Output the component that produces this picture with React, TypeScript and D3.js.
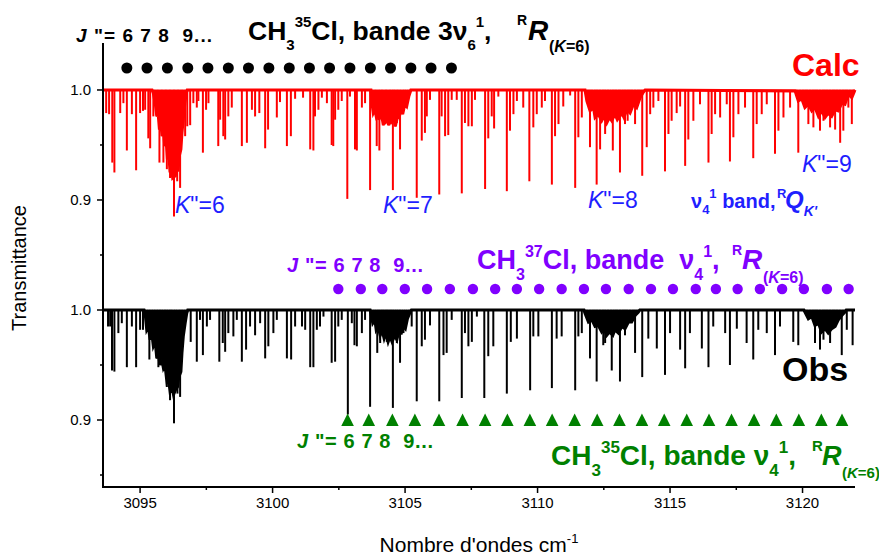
import React from "react";
import * as d3 from "d3";

// ---------------- data ----------------
const xDomain: [number, number] = [3093.6, 3121.98];
const yDomain: [number, number] = [0.8391, 1.2427]; // stacked axis (Calc shifted by +0.2)
const calcOffset = 0.2;

const xTicksMajor = [3095, 3100, 3105, 3110, 3115, 3120];
const xTicksMinor = [3097.5, 3102.5, 3107.5, 3112.5, 3117.5];
const yTicksMajor = [0.9, 1.0, 1.1, 1.2];
const yTickLabels = ["0.9", "1.0", "0.9", "1.0"];
const yTicksMinor = [0.85, 0.95, 1.05, 1.15];

// Calc spectrum: absorption lines [wavenumber, minimum transmittance]
const calcLines: [number, number][] = [
  [3093.72,0.979],[3093.83,0.978],[3093.95,0.934],[3094.03,0.925],[3094.25,0.979],[3094.37,0.988],[3094.50,0.945],[3094.69,0.978],[3094.85,0.927],[3095.00,0.979],[3095.11,0.981],[3095.19,0.982],[3095.31,0.956],[3095.38,0.947],[3095.50,0.976],[3095.73,0.934],[3095.88,0.934],[3096.01,0.928],[3096.13,0.920],[3096.28,0.885],[3096.40,0.917],[3096.51,0.911],[3096.70,0.958],[3096.78,0.967],[3096.89,0.968],[3097.01,0.988],[3097.14,0.984],[3097.20,0.990],[3097.37,0.943],[3097.49,0.982],[3097.58,0.988],[3097.95,0.949],[3098.02,0.973],[3098.14,0.958],[3098.21,0.955],[3098.33,0.976],[3098.46,0.984],[3098.84,0.949],[3099.03,0.952],[3099.22,0.982],[3099.34,0.976],[3099.50,0.979],[3099.72,0.947],[3099.83,0.964],[3100.16,0.975],[3100.28,0.989],[3100.54,0.949],[3100.69,0.958],[3100.85,0.992],[3101.15,0.993],[3101.42,0.946],[3101.54,0.945],[3101.60,0.976],[3101.73,0.982],[3101.86,0.993],[3102.05,0.988],[3102.23,0.950],[3102.29,0.949],[3102.36,0.973],[3102.48,0.982],[3102.61,0.990],[3102.82,0.901],[3102.92,0.994],[3103.11,0.946],[3103.18,0.945],[3103.37,0.984],[3103.49,0.988],[3103.68,0.909],[3103.93,0.949],[3104.03,0.945],[3104.31,0.972],[3104.41,0.968],[3104.54,0.909],[3104.62,0.967],[3104.69,0.970],[3104.81,0.946],[3105.06,0.985],[3105.44,0.902],[3105.63,0.954],[3105.75,0.961],[3105.82,0.976],[3105.94,0.991],[3106.29,0.905],[3106.38,0.976],[3106.51,0.958],[3106.63,0.959],[3106.76,0.991],[3106.95,0.991],[3107.14,0.906],[3107.26,0.970],[3107.39,0.967],[3107.52,0.967],[3107.64,0.991],[3108.02,0.910],[3108.14,0.956],[3108.27,0.976],[3108.36,0.965],[3108.52,0.994],[3108.84,0.908],[3108.96,0.963],[3109.09,0.978],[3109.22,0.990],[3109.46,0.984],[3109.69,0.917],[3109.84,0.966],[3109.97,0.978],[3110.16,0.984],[3110.28,0.990],[3110.54,0.914],[3110.66,0.958],[3110.79,0.969],[3110.97,0.985],[3111.23,0.995],[3111.42,0.911],[3111.54,0.957],[3111.67,0.975],[3111.98,0.948],[3112.23,0.914],[3112.36,0.946],[3112.55,0.960],[3112.84,0.945],[3113.11,0.925],[3113.30,0.969],[3113.40,0.972],[3113.68,0.969],[3113.95,0.922],[3114.12,0.948],[3114.25,0.978],[3114.37,0.984],[3114.56,0.990],[3114.81,0.926],[3114.94,0.960],[3115.06,0.972],[3115.25,0.979],[3115.38,0.985],[3115.57,0.931],[3115.69,0.955],[3115.88,0.972],[3116.13,0.987],[3116.45,0.934],[3116.57,0.960],[3116.70,0.978],[3116.89,0.975],[3117.14,0.987],[3117.26,0.935],[3117.39,0.957],[3117.58,0.978],[3117.83,0.984],[3118.14,0.938],[3118.27,0.969],[3118.46,0.978],[3118.65,0.987],[3118.96,0.942],[3119.09,0.963],[3119.28,0.975],[3119.53,0.984],[3119.84,0.943],[3120.22,0.969],[3120.41,0.966],[3120.66,0.963],[3120.79,0.972],[3121.04,0.966],[3121.23,0.964],[3121.42,0.952],[3121.54,0.963],[3121.73,0.984],[3121.86,0.969]
];

// Calc spectrum: unresolved band outlines [wavenumber, transmittance]
const calcEnvelope: [number, number][] = [
  [3093.6,1.0],
  [3095.45,1.0],[3095.50,0.997],[3095.57,0.988],[3095.63,0.976],[3095.68,0.979],[3095.73,0.964],[3095.78,0.970],[3095.83,0.958],[3095.88,0.964],[3095.93,0.949],[3095.98,0.955],[3096.03,0.937],[3096.08,0.943],[3096.13,0.925],[3096.18,0.931],[3096.23,0.920],[3096.33,0.922],[3096.38,0.931],[3096.43,0.926],[3096.48,0.940],[3096.54,0.946],[3096.58,0.961],[3096.63,0.973],[3096.69,0.988],[3096.74,0.997],[3096.78,1.0],
  [3103.68,1.0],[3103.71,1.0],[3103.75,0.988],[3103.80,0.979],[3103.86,0.982],[3103.91,0.976],[3103.97,0.979],[3104.01,0.973],[3104.08,0.978],[3104.13,0.975],[3104.18,0.968],[3104.23,0.976],[3104.28,0.972],[3104.33,0.975],[3104.38,0.968],[3104.43,0.973],[3104.48,0.971],[3104.58,0.975],[3104.63,0.967],[3104.69,0.973],[3104.74,0.978],[3104.78,0.976],[3104.86,0.982],[3104.91,0.978],[3104.99,0.987],[3105.06,0.985],[3105.14,0.994],[3105.22,1.0],
  [3111.79,1.0],[3111.86,0.990],[3111.98,0.981],[3112.11,0.984],[3112.17,0.975],[3112.29,0.978],[3112.42,0.972],[3112.51,0.976],[3112.61,0.970],[3112.71,0.975],[3112.80,0.972],[3112.92,0.978],[3113.01,0.973],[3113.18,0.979],[3113.26,0.975],[3113.37,0.982],[3113.49,0.979],[3113.62,0.987],[3113.74,0.984],[3113.87,0.993],[3113.99,0.998],[3114.06,1.0],
  [3119.72,0.999],[3119.84,0.990],[3119.97,0.992],[3120.09,0.984],[3120.22,0.987],[3120.35,0.981],[3120.47,0.984],[3120.60,0.976],[3120.72,0.981],[3120.85,0.975],[3120.97,0.979],[3121.10,0.976],[3121.23,0.982],[3121.35,0.981],[3121.48,0.988],[3121.60,0.987],[3121.73,0.996],[3121.86,0.993],[3121.98,1.0]
];

// Obs spectrum
const obsLines: [number, number][] = [
  [3093.79,0.985],[3093.87,0.985],[3093.94,0.945],[3094.03,0.944],[3094.18,0.979],[3094.31,0.988],[3094.50,0.948],[3094.69,0.985],[3094.85,0.948],[3095.00,0.982],[3095.11,0.982],[3095.35,0.955],[3095.69,0.948],[3096.01,0.930],[3096.13,0.918],[3096.28,0.897],[3096.41,0.924],[3096.51,0.921],[3096.91,0.971],[3097.14,0.953],[3097.26,0.991],[3097.37,0.959],[3097.52,0.985],[3097.64,0.991],[3097.99,0.953],[3098.12,0.970],[3098.21,0.962],[3098.33,0.979],[3098.52,0.976],[3098.65,0.991],[3098.84,0.953],[3099.00,0.964],[3099.15,0.985],[3099.34,0.977],[3099.53,0.988],[3099.72,0.956],[3099.84,0.967],[3100.03,0.979],[3100.16,0.991],[3100.54,0.956],[3100.70,0.955],[3100.85,0.985],[3101.11,0.985],[3101.23,0.982],[3101.42,0.948],[3101.54,0.948],[3101.67,0.982],[3101.79,0.985],[3101.92,0.994],[3102.23,0.952],[3102.36,0.953],[3102.48,0.985],[3102.61,0.991],[3102.84,0.905],[3102.99,0.988],[3103.09,0.968],[3103.18,0.967],[3103.37,0.979],[3103.49,0.991],[3103.68,0.912],[3103.95,0.961],[3104.06,0.970],[3104.31,0.971],[3104.54,0.911],[3104.69,0.970],[3104.81,0.952],[3104.94,0.979],[3105.25,0.985],[3105.44,0.917],[3105.63,0.967],[3105.75,0.973],[3105.94,0.986],[3106.29,0.917],[3106.45,0.959],[3106.57,0.961],[3106.76,0.991],[3107.14,0.920],[3107.26,0.979],[3107.39,0.967],[3107.52,0.971],[3107.71,0.994],[3107.99,0.920],[3108.14,0.958],[3108.33,0.967],[3108.84,0.924],[3108.99,0.971],[3109.22,0.974],[3109.72,0.927],[3109.84,0.976],[3110.03,0.976],[3110.54,0.929],[3110.72,0.974],[3110.91,0.976],[3111.42,0.927],[3111.54,0.976],[3111.67,0.979],[3111.98,0.956],[3112.23,0.935],[3112.48,0.968],[3112.55,0.970],[3112.80,0.945],[3113.11,0.935],[3113.30,0.977],[3113.68,0.961],[3113.95,0.939],[3114.18,0.974],[3114.50,0.965],[3114.81,0.941],[3115.00,0.979],[3115.38,0.964],[3115.57,0.947],[3115.75,0.979],[3116.20,0.965],[3116.45,0.948],[3116.63,0.985],[3117.08,0.979],[3117.26,0.950],[3117.52,0.983],[3117.89,0.970],[3118.14,0.955],[3118.33,0.982],[3118.65,0.979],[3118.96,0.959],[3119.15,0.985],[3119.65,0.971],[3119.84,0.968],[3120.47,0.970],[3120.66,0.964],[3120.79,0.973],[3121.04,0.970],[3121.48,0.959],[3121.67,0.982],[3121.89,0.968]
];

const obsEnvelope: [number, number][] = [
  [3093.6,1.0],
  [3095.15,1.0],[3095.19,0.997],[3095.25,0.982],[3095.31,0.985],[3095.38,0.973],[3095.44,0.979],[3095.50,0.967],[3095.57,0.971],[3095.63,0.956],[3095.69,0.961],[3095.75,0.950],[3095.82,0.955],[3095.88,0.947],[3095.94,0.950],[3096.01,0.935],[3096.07,0.938],[3096.13,0.926],[3096.21,0.929],[3096.26,0.923],[3096.33,0.927],[3096.41,0.930],[3096.46,0.939],[3096.54,0.944],[3096.58,0.961],[3096.63,0.976],[3096.70,0.988],[3096.76,0.997],[3096.80,1.0],
  [3103.68,1.0],[3103.71,0.997],[3103.78,0.988],[3103.86,0.991],[3103.91,0.982],[3103.98,0.985],[3104.06,0.977],[3104.13,0.982],[3104.21,0.974],[3104.28,0.979],[3104.36,0.971],[3104.43,0.976],[3104.51,0.971],[3104.61,0.977],[3104.69,0.973],[3104.76,0.980],[3104.86,0.979],[3104.94,0.985],[3105.01,0.983],[3105.09,0.992],[3105.19,0.998],[3105.24,1.0],
  [3111.75,1.0],[3111.79,0.997],[3111.92,0.989],[3112.05,0.991],[3112.17,0.985],[3112.29,0.986],[3112.42,0.980],[3112.51,0.983],[3112.61,0.977],[3112.71,0.980],[3112.84,0.977],[3112.92,0.982],[3113.05,0.979],[3113.18,0.985],[3113.30,0.983],[3113.43,0.989],[3113.55,0.989],[3113.68,0.995],[3113.80,0.998],[3113.86,1.0],
  [3120.05,1.0],[3120.09,0.998],[3120.22,0.992],[3120.35,0.994],[3120.47,0.986],[3120.60,0.988],[3120.72,0.980],[3120.85,0.983],[3120.97,0.979],[3121.10,0.983],[3121.23,0.985],[3121.35,0.991],[3121.48,0.995],[3121.60,0.998],[3121.65,1.0],
  [3121.98,1.0]
];

// J" assignment markers (wavenumbers)
const jMarks3v6 = [3094.50,3095.26,3096.03,3096.80,3097.56,3098.33,3099.09,3099.86,3100.63,3101.39,3102.15,3102.92,3103.69,3104.45,3105.22,3105.98,3106.75];
const jMarks37v4 = [3102.48,3103.33,3104.14,3104.99,3105.83,3106.69,3107.56,3108.40,3109.22,3110.06,3110.91,3111.75,3112.58,3113.44,3114.28,3115.11,3115.97,3116.73,3117.55,3118.39,3119.23,3120.05,3120.92,3121.74];
const jMarks35v4 = [3102.83,3103.63,3104.52,3105.37,3106.28,3107.17,3108.02,3108.86,3109.71,3110.55,3111.40,3112.25,3113.09,3113.94,3114.78,3115.63,3116.47,3117.32,3118.17,3119.01,3119.86,3120.71,3121.49];

// ---------------- styles ----------------
const FONT = "'Liberation Sans', Arial, Helvetica, sans-serif";
const RED = "#ff0000";
const BLUE = "#1f1fff";
const PURPLE = "#8000ff";
const GREEN = "#008000";

type Seg = { t: string; size?: number; shift?: number; italic?: boolean; x?: number; weight?: string };

function Rich(props: { x: number; y: number; segs: Seg[]; fill: string; size: number; weight?: string; textLength?: number }) {
  let prev = 0;
  return (
    <text
      x={props.x}
      y={props.y}
      fill={props.fill}
      fontFamily={FONT}
      fontSize={props.size}
      fontWeight={props.weight || "bold"}
      style={{ whiteSpace: "pre" }}
      textLength={props.textLength}
      lengthAdjust={props.textLength ? "spacing" : undefined}
    >
      {props.segs.map((s, i) => {
        const sh = s.shift || 0;
        const dy = sh - prev;
        prev = sh;
        return (
          <tspan
            key={i}
            x={s.x}
            dy={dy}
            fontSize={s.size || props.size}
            fontStyle={s.italic ? "italic" : "normal"}
            fontWeight={s.weight}
          >
            {s.t}
          </tspan>
        );
      })}
    </text>
  );
}

export default function App() {
  const x = d3.scaleLinear().domain(xDomain).range([103, 855]);
  const y = d3.scaleLinear().domain(yDomain).range([487, 43]);

  const spectrum = (lines: [number, number][], env: [number, number][], off: number, color: string, base: number) => {
    const area = d3
      .area<[number, number]>()
      .x((d) => x(d[0]))
      .y0(() => y(1 + off))
      .y1((d) => y(d[1] + off));
    const line = d3
      .line<[number, number]>()
      .x((d) => x(d[0]))
      .y((d) => y(d[1] + off));
    return (
      <g>
        <path d={area(env) || ""} fill={color} stroke={color} strokeWidth={1} />
        <path d={line(env) || ""} fill="none" stroke={color} strokeWidth={base} />
        {lines.map((l, i) => (
          <line key={i} x1={x(l[0])} x2={x(l[0])} y1={y(1 + off)} y2={y(l[1] + off)} stroke={color} strokeWidth={2} />
        ))}
      </g>
    );
  };

  const tri = (cx: number) => `M${cx},413.5 L${cx + 6.3},426 L${cx - 6.3},426 Z`;

  return (
    <svg width={879} height={557} style={{ position: "absolute", left: 0, top: 0, background: "#fff" }}>
      <rect x={0} y={0} width={879} height={557} fill="#fff" />

      {/* spectra */}
      {spectrum(calcLines, calcEnvelope, calcOffset, RED, 3)}
      {spectrum(obsLines, obsEnvelope, 0, "#000", 3)}

      {/* axes */}
      <line x1={103} x2={103} y1={43} y2={488} stroke="#000" strokeWidth={2} />
      <line x1={102} x2={855} y1={487} y2={487} stroke="#000" strokeWidth={2} />
      {yTicksMajor.map((v, i) => (
        <g key={"ym" + i}>
          <line x1={97} x2={103} y1={y(v)} y2={y(v)} stroke="#000" strokeWidth={1.5} />
          <text x={91} y={y(v) + 5} textAnchor="end" fontFamily={FONT} fontSize={15}>
            {yTickLabels[i]}
          </text>
        </g>
      ))}
      {yTicksMinor.map((v, i) => (
        <line key={"yn" + i} x1={100} x2={103} y1={y(v)} y2={y(v)} stroke="#000" strokeWidth={1.5} />
      ))}
      {xTicksMajor.map((v, i) => (
        <g key={"xm" + i}>
          <line x1={x(v)} x2={x(v)} y1={487} y2={493} stroke="#000" strokeWidth={1.5} />
          <text x={x(v)} y={508} textAnchor="middle" fontFamily={FONT} fontSize={15}>
            {String(v)}
          </text>
        </g>
      ))}
      {xTicksMinor.map((v, i) => (
        <line key={"xn" + i} x1={x(v)} x2={x(v)} y1={487} y2={490} stroke="#000" strokeWidth={1.5} />
      ))}
      <text transform="translate(26,268) rotate(-90)" textAnchor="middle" fontFamily={FONT} fontSize={20}>
        Transmittance
      </text>
      <text x={479} y={552} textAnchor="middle" fontFamily={FONT} fontSize={21}>
        Nombre d'ondes cm
        <tspan fontSize={13} dy={-9}>-1</tspan>
      </text>

      {/* markers */}
      {jMarks3v6.map((w, i) => (
        <circle key={"bd" + i} cx={x(w)} cy={68} r={5.5} fill="#000" />
      ))}
      {jMarks37v4.map((w, i) => (
        <circle key={"pd" + i} cx={x(w)} cy={289} r={5.2} fill={PURPLE} />
      ))}
      {jMarks35v4.map((w, i) => (
        <path key={"gt" + i} d={tri(x(w))} fill={GREEN} />
      ))}

      {/* top label: 3nu6 */}
      <Rich x={76} y={42} fill="#000" size={19} textLength={136}
        segs={[{ t: "J", italic: true }, { t: " \"= 6 7 8  9..." }]} />
      <Rich x={248} y={40} fill="#000" size={26.5}
        segs={[
          { t: "CH" },
          { t: "3", size: 15, shift: 10 },
          { t: "35", size: 15, shift: -13 },
          { t: "Cl, bande 3\u03bd" },
          { t: "6", size: 15, shift: 10 },
          { t: "1", size: 15, shift: -13 },
          { t: "," },
          { t: "R", size: 14, shift: -15, x: 517 },
          { t: "R", size: 28, italic: true, x: 528 },
          { t: "(", size: 16, shift: 12, x: 549 },
          { t: "K", size: 16, italic: true, shift: 12 },
          { t: "=6)", size: 16, shift: 12 },
        ]} />
      <Rich x={792} y={76} fill={RED} size={32} segs={[{ t: "Calc" }]} />

      {/* K labels */}
      <Rich x={175} y={213} fill={BLUE} size={23} weight="normal" segs={[{ t: "K", italic: true }, { t: "\"=6" }]} />
      <Rich x={383} y={213} fill={BLUE} size={23} weight="normal" segs={[{ t: "K", italic: true }, { t: "\"=7" }]} />
      <Rich x={588} y={208} fill={BLUE} size={23} weight="normal" segs={[{ t: "K", italic: true }, { t: "\"=8" }]} />
      <Rich x={802} y={172} fill={BLUE} size={23} weight="normal" segs={[{ t: "K", italic: true }, { t: "\"=9" }]} />
      <Rich x={691} y={208} fill={BLUE} size={20}
        segs={[
          { t: "\u03bd" },
          { t: "4", size: 13, shift: 6 },
          { t: "1", size: 13, shift: -10 },
          { t: " band," },
          { t: "R", size: 13, shift: -10, x: 777 },
          { t: "Q", size: 24, italic: true, x: 785 },
          { t: "K'", size: 14, italic: true, shift: 8 },
        ]} />

      {/* purple label */}
      <Rich x={287} y={272} fill={PURPLE} size={20} textLength={136}
        segs={[{ t: "J", italic: true }, { t: " \"= 6 7 8  9..." }]} />
      <Rich x={477} y={269} fill={PURPLE} size={27}
        segs={[
          { t: "CH" },
          { t: "3", size: 16, shift: 11 },
          { t: "37", size: 16, shift: -12 },
          { t: "Cl, bande  \u03bd" },
          { t: "4", size: 16, shift: 11 },
          { t: "1", size: 16, shift: -12 },
          { t: "," },
          { t: "R", size: 14, shift: -14, x: 732 },
          { t: "R", size: 28, italic: true, x: 742 },
          { t: "(", size: 16, shift: 14, x: 763 },
          { t: "K", size: 16, italic: true, shift: 14 },
          { t: "=6)", size: 16, shift: 14 },
        ]} />

      <Rich x={782} y={381} fill="#000" size={34} segs={[{ t: "Obs" }]} />

      {/* green label */}
      <Rich x={297} y={448} fill={GREEN} size={20} textLength={136}
        segs={[{ t: "J", italic: true }, { t: " \"= 6 7 8  9..." }]} />
      <Rich x={551} y={465} fill={GREEN} size={28}
        segs={[
          { t: "CH" },
          { t: "3", size: 17, shift: 11 },
          { t: "35", size: 17, shift: -12 },
          { t: "Cl, bande \u03bd" },
          { t: "4", size: 17, shift: 11 },
          { t: "1", size: 17, shift: -12 },
          { t: "," },
          { t: "R", size: 15, shift: -14, x: 812 },
          { t: "R", size: 27, italic: true, x: 822 },
          { t: "(", size: 15, shift: 13, x: 842 },
          { t: "K", size: 15, italic: true, shift: 13 },
          { t: "=6)", size: 15, shift: 13 },
        ]} />
    </svg>
  );
}
